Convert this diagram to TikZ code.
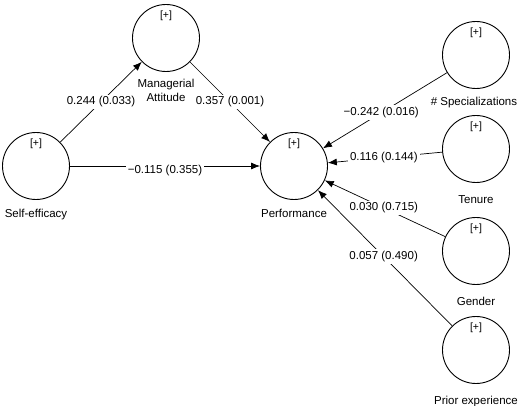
\documentclass[tikz,border=0pt]{standalone}
\usepackage{fontspec}
\setmainfont{Liberation Sans}
\usetikzlibrary{arrows.meta}
\begin{document}
\begin{tikzpicture}[>={Latex[length=9pt,width=7pt]},x=1pt,y=-1pt,
  lv/.style={draw,circle,minimum size=67pt,inner sep=0pt,line width=0.9pt},
  lbl/.style={font=\fontsize{11.5}{13.5}\selectfont,align=center},
  est/.style={fill=white,inner sep=2pt,font=\fontsize{11.5}{13.5}\selectfont},
  plus/.style={font=\fontsize{10.5}{12}\selectfont,inner sep=1pt}]
  \useasboundingbox (0,0) rectangle (520,406);
  % Konstrukter
  \node[lv,label={[lbl,label distance=6pt]below:Self-efficacy}] (se) at (36,166) {};
  \node[lv,label={[lbl,label distance=4pt]below:Managerial\\Attitude}] (ma) at (166,38) {};
  \node[lv,label={[lbl,label distance=6pt]below:Performance}] (perf) at (294,166) {};
  \node[lv,label={[lbl,label distance=5pt,xshift=-2pt]below:\# Specializations}] (spec) at (476,55) {};
  \node[lv,label={[lbl,label distance=9pt]below:Tenure}] (ten) at (476,149) {};
  \node[lv,label={[lbl,label distance=9pt]below:Gender}] (gen) at (476,251) {};
  \node[lv,label={[lbl,label distance=9pt]below:Prior experience}] (prior) at (476,350) {};
  \foreach \n in {se,ma,perf,spec,ten,gen,prior}
    \node[plus] (\n-p) at ([yshift=-12pt]\n.north) {[+]};
  % Stier
  \draw[->,line width=0.7pt] (se) -- node[est] {0.244 (0.033)} (ma);
  \draw[->,line width=0.7pt] (ma) -- node[est] {0.357 (0.001)} (perf);
  \draw[->,line width=0.7pt] (se) -- node[est,yshift=-5pt] {−0.115 (0.355)} (perf);
  \draw[->,line width=0.7pt] (spec) -- node[est,pos=0.53] {−0.242 (0.016)} (perf);
  \draw[->,line width=0.7pt] (ten) -- node[est,pos=0.51] {0.116 (0.144)} (perf);
  \draw[->,line width=0.7pt] (gen) -- node[est,pos=0.51] {0.030 (0.715)} (perf);
  \draw[->,line width=0.7pt] (prior) -- node[est,pos=0.51] {0.057 (0.490)} (perf);
\end{tikzpicture}
\end{document}
